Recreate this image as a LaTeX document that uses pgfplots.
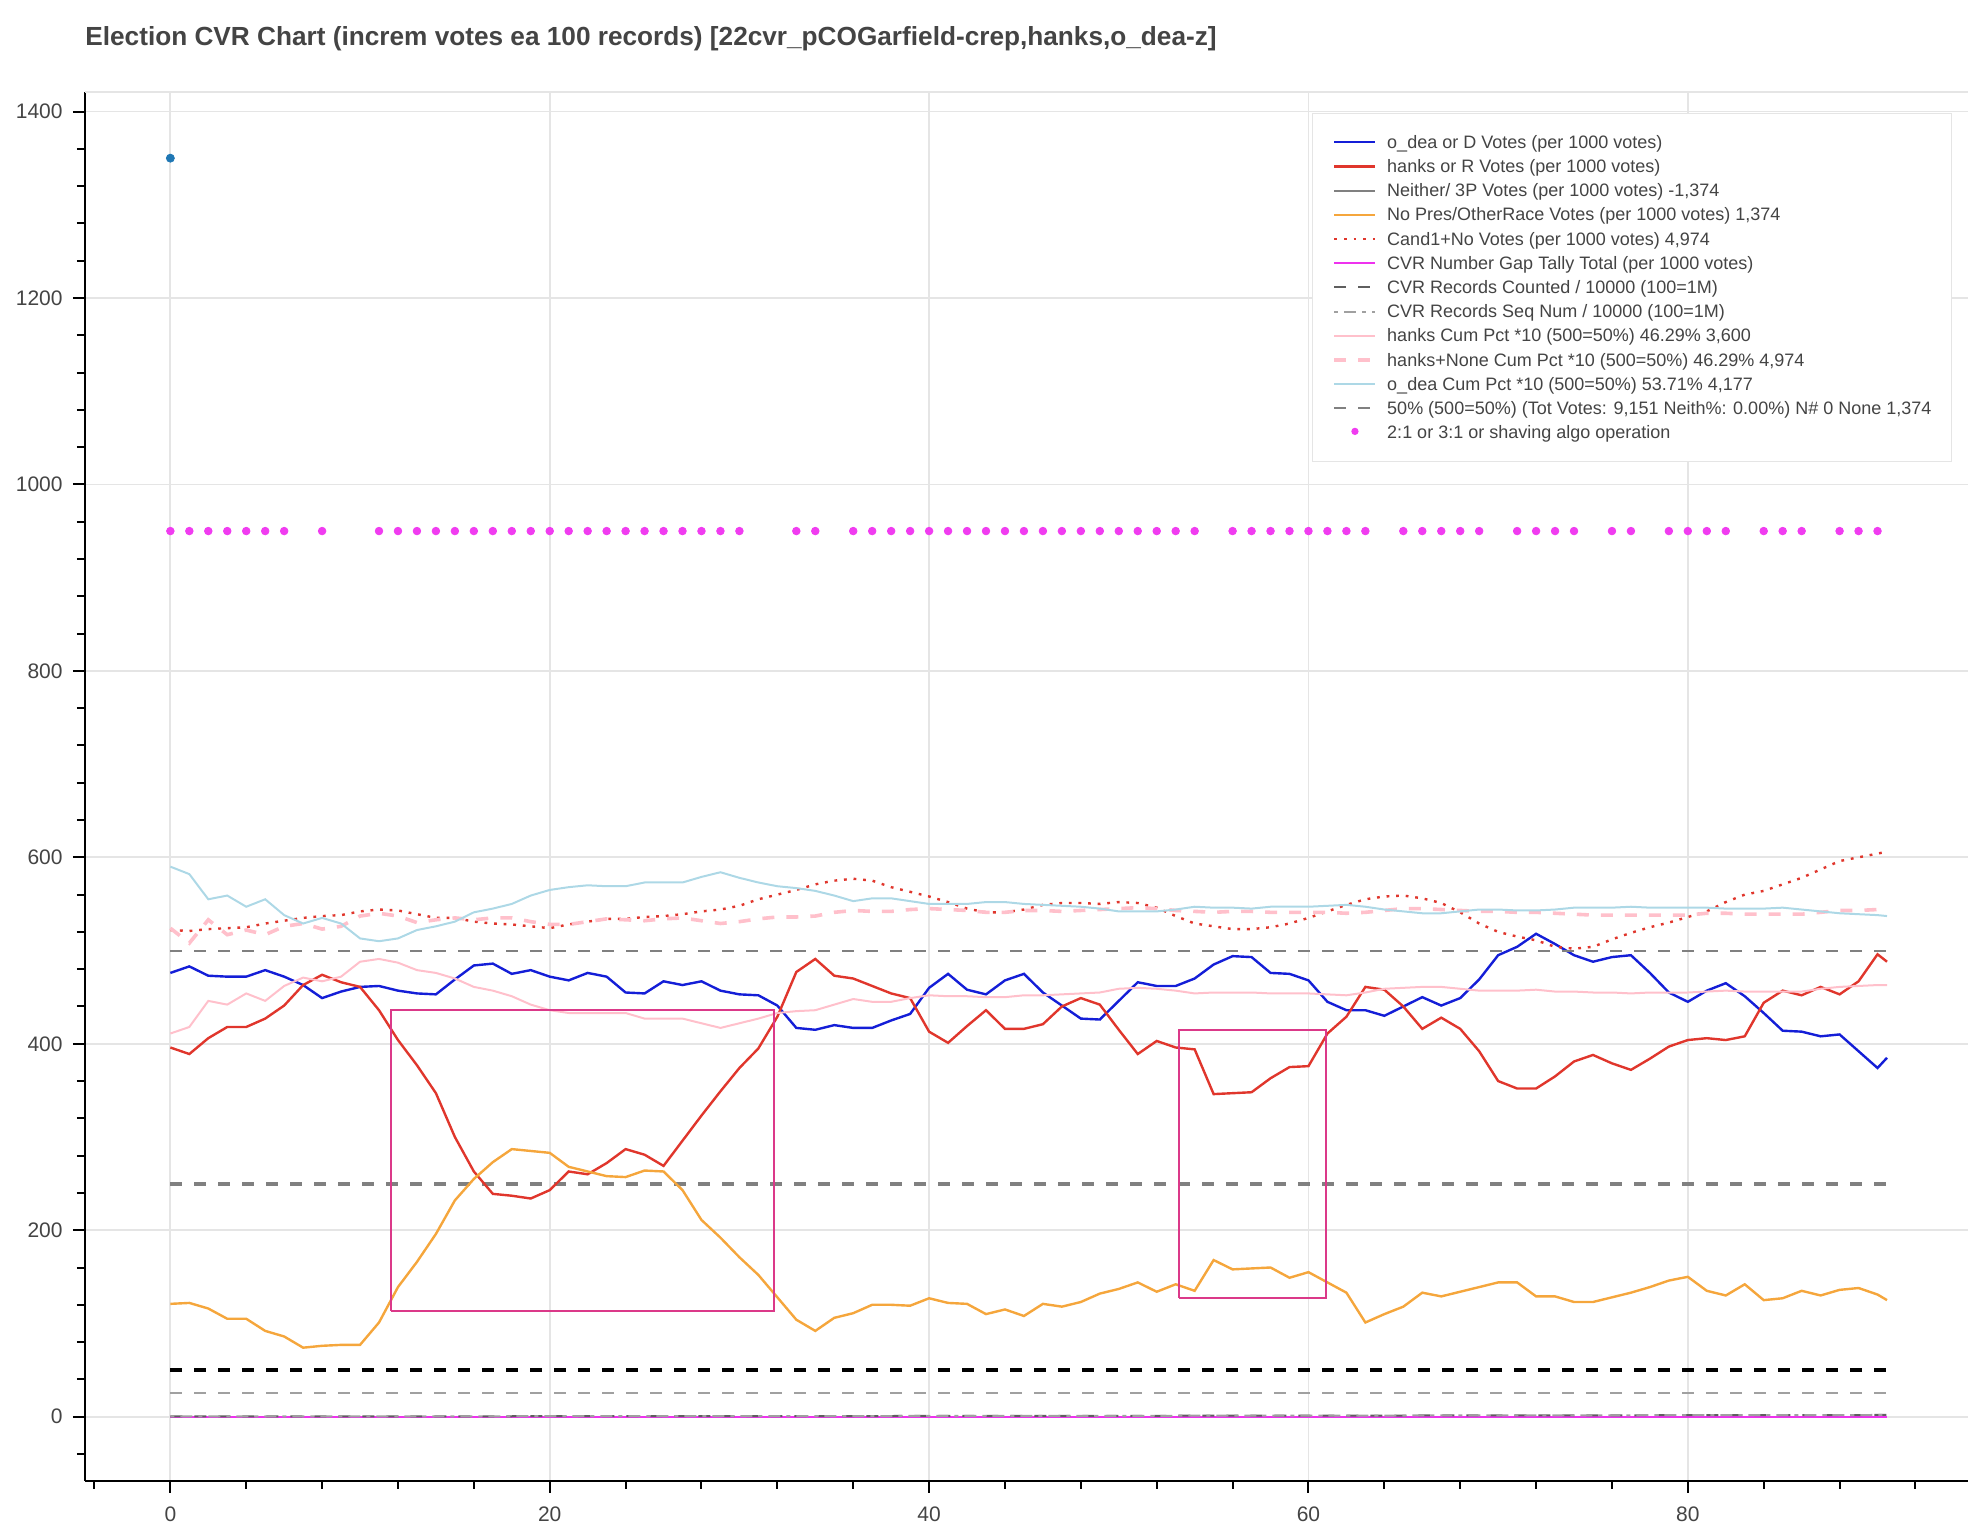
\documentclass[border=0pt]{standalone}
\usepackage{fontspec}
\setmainfont{Liberation Sans}
\usepackage{pgfplots}
\usepackage{pgfplotstable}
\pgfplotsset{compat=1.18}
\definecolor{textgray}{RGB}{68,68,68}
\definecolor{gridgray}{RGB}{229,229,229}
\definecolor{blueD}{RGB}{20,30,215}
\definecolor{redR}{RGB}{224,54,44}
\definecolor{orangeNP}{RGB}{245,166,60}
\definecolor{pinkC}{RGB}{255,192,203}
\definecolor{lightblueC}{RGB}{173,216,230}
\definecolor{magentaG}{RGB}{238,50,238}
\definecolor{dotmag}{RGB}{240,60,240}
\definecolor{rectcol}{RGB}{219,57,137}
\definecolor{dotblue}{RGB}{31,119,180}
\definecolor{grayA}{RGB}{128,128,128}
\definecolor{grayB}{RGB}{160,160,160}
\definecolor{grayC}{RGB}{95,95,95}

\pgfplotstableread{
x D R NP C1N HC HNC OC
0 476 396 121 522 411 524 590
1 483 389 122 521 418 508 582
2 473 406 116 523 446 533 555
3 472 418 105 524 442 517 559
4 472 418 105 525 454 522 547
5 479 427 92 529 446 517 555
6 472 441 86 532 462 526 538
7 463 463 74 535 471 529 529
8 449 474 76 537 467 523 535
9 456 466 77 538 472 526 529
10 461 461 77 542 488 537 513
11 462 436 101 544 491 540 510
12 457 404 139 543 487 537 513
13 454 377 166 539 479 530 522
14 453 347 196 535 476 533 526
15 469 300 232 535 470 535 531
16 484 263 255 531 461 533 541
17 486 239 273 529 457 535 545
18 475 237 287 528 451 535 550
19 479 234 285 526 442 531 559
20 472 243 283 524 436 528 565
21 468 263 268 528 433 528 568
22 476 260 263 531 433 531 570
23 472 272 258 534 433 534 569
24 455 287 257 534 433 533 569
25 454 281 264 536 427 532 573
26 467 269 263 537 427 534 573
27 463 296 243 539 427 535 573
28 467 323 211 542 422 532 579
29 457 349 192 544 417 529 584
30 453 374 171 548 422 531 578
31 452 395 152 555 427 534 573
32 441 429 128 560 433 536 569
33 417 477 104 565 435 536 567
34 415 491 92 571 436 537 564
35 420 473 106 575 442 541 559
36 417 470 111 577 448 543 553
37 417 462 120 575 445 542 556
38 425 454 120 568 445 542 556
39 432 449 119 563 449 544 553
40 460 413 127 558 452 545 550
41 475 401 122 552 451 544 550
42 458 419 121 545 451 543 550
43 453 436 110 541 450 541 552
44 468 416 115 541 450 541 552
45 475 416 108 544 452 543 550
46 455 421 121 549 452 543 549
47 441 440 118 551 453 542 548
48 427 449 123 551 454 543 547
49 426 442 132 550 455 544 545
50 446 415 137 552 459 545 542
51 466 389 144 551 460 546 542
52 462 403 134 546 459 545 542
53 462 396 142 537 457 543 544
54 470 394 135 529 454 542 547
55 485 346 168 526 455 541 546
56 494 347 158 523 455 542 546
57 493 348 159 523 455 542 545
58 476 363 160 525 454 541 547
59 475 375 149 529 454 541 547
60 468 376 155 535 454 541 547
61 445 411 144 542 453 541 548
62 436 429 133 549 452 540 549
63 436 461 101 555 455 541 547
64 430 458 110 558 459 543 544
65 440 440 118 559 460 545 542
66 450 416 133 556 461 545 540
67 441 428 129 551 461 544 540
68 449 416 134 541 459 543 542
69 469 392 139 529 457 542 544
70 495 360 144 520 457 542 544
71 504 352 144 515 457 541 543
72 518 352 129 511 458 541 543
73 507 365 129 504 456 540 544
74 495 381 123 502 456 539 546
75 488 388 123 504 455 538 546
76 493 379 128 512 455 538 546
77 495 372 133 519 454 538 547
78 476 384 139 525 455 538 546
79 455 397 146 530 455 538 546
80 445 404 150 536 455 538 546
81 457 406 135 542 456 540 546
82 465 404 130 552 457 540 545
83 451 408 142 560 456 539 545
84 433 444 125 564 456 539 545
85 414 457 127 571 456 539 546
86 413 452 135 578 456 539 544
87 408 461 130 587 459 541 542
88 410 453 136 596 461 543 540
89 392 467 138 600 462 543 539
90 374 496 131 604 463 544 538
90.5 385 488 125 606 463 544 537
}\datatab

\begin{document}
\begin{tikzpicture}
\begin{axis}[name=ax, scale only axis, width=941.5pt, height=694.5pt,
  xmin=-4.5, xmax=94.77, ymin=-69, ymax=1421,
  axis x line=bottom, axis y line=left,
  axis line style={-, black, line width=1pt},
  xtick={0,20,40,60,80}, ytick={0,200,...,1400},
  minor xtick={-4,0,...,92}, minor ytick={-40,0,...,1400},
  tick align=outside, major tick length=6pt, minor tick length=4pt,
  every tick/.style={black, line width=1pt},
  grid=major, major grid style={gridgray, line width=0.9pt},
  ticklabel style={font=\fontsize{10.5}{12}\selectfont, text=textgray},
  /pgf/number format/assume math mode=true, /pgf/number format/1000 sep={},
  xticklabel style={anchor=north, inner sep=0pt, yshift=-6.75pt},
  yticklabel style={anchor=east, inner sep=0pt, xshift=-5pt},
  legend image code/.code={\draw[#1] (0pt,0pt) -- (20.5pt,0pt);},
  legend cell align=left,
  legend style={at={(1,1)}, anchor=north east, xshift=-8pt, yshift=-10.5pt,
    draw=gridgray, line width=0.6pt, fill=white,
    inner xsep=10pt, inner ysep=9.8pt, row sep=3.1pt, column sep=5pt,
    font=\fontsize{9}{10}\selectfont, text=textgray,
    nodes={inner sep=0pt, text height=7.6pt, text depth=1.4pt}},
]
% reference lines without legend
\addplot[grayA, line width=2pt, dash pattern=on 6pt off 6pt, forget plot] coordinates {(0,250) (90.5,250)};
\addplot[black, line width=1.6pt, dash pattern=on 6pt off 6pt, forget plot] coordinates {(0,50) (90.5,50)};
\addplot[grayB, line width=1pt, dash pattern=on 6pt off 6pt, forget plot] coordinates {(0,25) (90.5,25)};

\addplot[blueD, line width=1.2pt] table[x=x, y=D] {\datatab};
\addlegendentry{o\_dea or D Votes (per 1000 votes)}
\addplot[redR, line width=1.2pt] table[x=x, y=R] {\datatab};
\addlegendentry{hanks or R Votes (per 1000 votes)}
\addplot[grayA, line width=1pt] coordinates {(0,0) (90.5,0)};
\addlegendentry{Neither/ 3P Votes (per 1000 votes) -1,374}
\addplot[orangeNP, line width=1.2pt] table[x=x, y=NP] {\datatab};
\addlegendentry{No Pres/OtherRace Votes (per 1000 votes) 1,374}
\addplot[redR, line width=1.2pt, dash pattern=on 1.4pt off 3.4pt] table[x=x, y=C1N] {\datatab};
\addlegendentry{Cand1+No Votes (per 1000 votes) 4,974}
\addplot[magentaG, line width=1pt] coordinates {(0,0) (90.5,0)};
\addlegendentry{CVR Number Gap Tally Total (per 1000 votes)}
\addplot[grayC, line width=1pt, dash pattern=on 6pt off 6pt] coordinates {(0,0.2) (45,0.8) (90.5,1.8)};
\addlegendentry{CVR Records Counted / 10000 (100=1M)}
\addplot[grayB, line width=1pt, dash pattern=on 2pt off 3pt on 6pt off 3pt] coordinates {(0,0.2) (45,0.8) (90.5,1.8)};
\addlegendentry{CVR Records Seq Num / 10000 (100=1M)}
\addplot[pinkC, line width=1pt] table[x=x, y=HC] {\datatab};
\addlegendentry{hanks Cum Pct *10 (500=50\%) 46.29\% 3,600}
\addplot[pinkC, line width=1.8pt, dash pattern=on 6pt off 6pt] table[x=x, y=HNC] {\datatab};
\addlegendentry{hanks+None Cum Pct *10 (500=50\%) 46.29\% 4,974}
\addplot[lightblueC, line width=1pt] table[x=x, y=OC] {\datatab};
\addlegendentry{o\_dea Cum Pct *10 (500=50\%) 53.71\% 4,177}
\addplot[grayA, line width=1pt, dash pattern=on 6pt off 6pt] coordinates {(0,500) (90.5,500)};
\addlegendentry{50\% (500=50\%) (Tot Votes: 9,151 Neith\%: 0.00\%) N\# 0 None 1,374}
\addplot[dotmag, only marks, mark=*, mark size=1.9pt,
  legend image code/.code={\fill[dotmag] (10.25pt,0.6pt) circle (1.5pt);}]
  coordinates {(0,950) (1,950) (2,950) (3,950) (4,950) (5,950) (6,950) (8,950)
  (11,950) (12,950) (13,950) (14,950) (15,950) (16,950) (17,950) (18,950) (19,950) (20,950)
  (21,950) (22,950) (23,950) (24,950) (25,950) (26,950) (27,950) (28,950) (29,950) (30,950)
  (33,950) (34,950)
  (36,950) (37,950) (38,950) (39,950) (40,950) (41,950) (42,950) (43,950) (44,950) (45,950)
  (46,950) (47,950) (48,950) (49,950) (50,950) (51,950) (52,950) (53,950) (54,950)
  (56,950) (57,950) (58,950) (59,950) (60,950) (61,950) (62,950) (63,950)
  (65,950) (66,950) (67,950) (68,950) (69,950)
  (71,950) (72,950) (73,950) (74,950)
  (76,950) (77,950)
  (79,950) (80,950) (81,950) (82,950)
  (84,950) (85,950) (86,950)
  (88,950) (89,950) (90,950)};
\addlegendentry{2:1 or 3:1 or shaving algo operation}

\addplot[dotblue, only marks, mark=*, mark size=2pt, forget plot] coordinates {(0,1350)};

\addplot[rectcol, line width=1pt, forget plot] coordinates {(11.64,113.3) (31.8,113.3) (31.8,436.3) (11.64,436.3) (11.64,113.3)};
\addplot[rectcol, line width=1pt, forget plot] coordinates {(53.18,127.3) (60.9,127.3) (60.9,414.9) (53.18,414.9) (53.18,127.3)};
\end{axis}
\draw[gridgray, line width=0.9pt] (ax.north west) -- (ax.north east);
\node[anchor=base west, inner sep=0pt, font=\fontsize{13.1}{15}\selectfont\bfseries, text=textgray]
  at ([yshift=23pt]ax.north west) {Election CVR Chart (increm votes ea 100 records) [22cvr\_pCOGarfield-crep,hanks,o\_dea-z]};
\pgfresetboundingbox
\path[use as bounding box] ([xshift=-42.5pt,yshift=-21.5pt]ax.south west) rectangle ([yshift=46pt]ax.north east);
\end{tikzpicture}
\end{document}
